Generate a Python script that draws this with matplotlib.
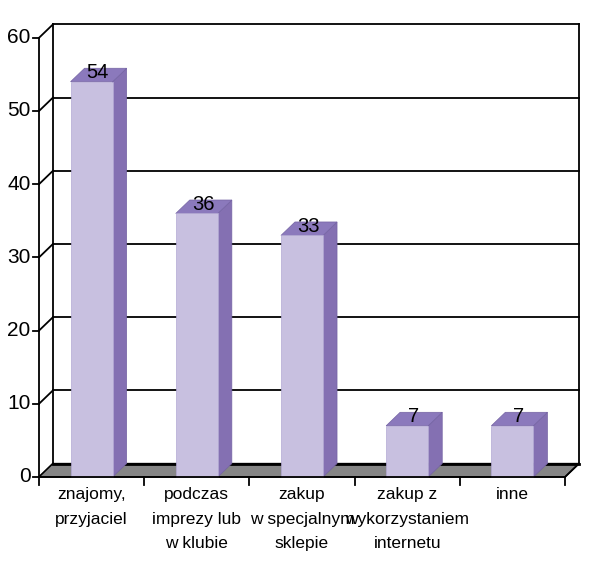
import matplotlib.pyplot as plt
from matplotlib.patches import Polygon

# data
categories = ["znajomy,\nprzyjaciel", "podczas\nimprezy lub\nw klubie",
              "zakup\nw specjalnym\nsklepie", "zakup z\nwykorzystaniem\ninternetu", "inne"]
values = [54, 36, 33, 7, 7]
y_ticks = [0, 10, 20, 30, 40, 50, 60]

plt.rcParams['font.family'] = ['Liberation Sans', 'DejaVu Sans']

front_col = "#c8c0e0"
side_col = "#8470b2"
top_col = "#8b79bc"
floor_col = "#858585"

n = len(categories)
dx, dy = 0.133, 1.84   # depth offset (category units, value units)
bw = 0.40              # bar width

fig = plt.figure(figsize=(6, 5.68), dpi=100)
ax = fig.add_axes([0, 0, 1, 1])
ax.set_xlim(-39 / 105.2, (600 - 39) / 105.2)
ax.set_ylim((477 - 568) / 7.32, 477 / 7.32)
ax.axis("off")

lw = 1.3
# back wall with gridlines
for t in y_ticks:
    ax.plot([dx, n + dx], [t + dy, t + dy], color="black", lw=lw, zorder=1)
    # side wall diagonals
    ax.plot([0, dx], [t, t + dy], color="black", lw=lw, zorder=1)
ax.plot([dx, dx], [dy, y_ticks[-1] + dy], color="black", lw=lw, zorder=1)
ax.plot([n + dx, n + dx], [dy, y_ticks[-1] + dy], color="black", lw=lw, zorder=1)

# floor
ax.add_patch(Polygon([(0, 0), (n, 0), (n + dx, dy), (dx, dy)], closed=True,
                     facecolor=floor_col, edgecolor="black", lw=1.0, zorder=2))
ax.plot([dx, n + dx], [dy, dy], color="black", lw=2.0, zorder=2)

# bars
for i, v in enumerate(values):
    c = i + 0.5
    x0, x1 = c - bw / 2, c + bw / 2
    ax.add_patch(Polygon([(x1, 0), (x1 + dx, dy), (x1 + dx, v + dy), (x1, v)], closed=True,
                         facecolor=side_col, edgecolor="#7463a3", lw=0.5, zorder=3))
    ax.add_patch(Polygon([(x0, v), (x1, v), (x1 + dx, v + dy), (x0 + dx, v + dy)], closed=True,
                         facecolor=top_col, edgecolor="#7463a3", lw=0.5, zorder=3))
    ax.add_patch(Polygon([(x0, 0), (x1, 0), (x1, v), (x0, v)], closed=True,
                         facecolor=front_col, edgecolor="#b3a9d4", lw=0.5, zorder=4))
    ax.text(c + 0.06, v + 1.2, str(v), ha="center", va="center", fontsize=14.5, zorder=5)

# front axes
ax.plot([0, 0], [-1.1, y_ticks[-1]], color="black", lw=lw, zorder=5)
ax.plot([0, n], [0, 0], color="black", lw=lw, zorder=5)
ax.plot([n, n + dx], [0, dy], color="black", lw=lw, zorder=5)
for t in y_ticks:
    ax.plot([-0.06, 0], [t, t], color="black", lw=lw, zorder=5)
    ax.text(-0.08, t, str(t), ha="right", va="center", fontsize=15)
for i in range(1, n + 1):
    ax.plot([i, i], [0, -1.1], color="black", lw=lw, zorder=5)

for i, lab in enumerate(categories):
    ax.text(i + 0.5, -1.4, lab, ha="center", va="top", fontsize=12.5, linespacing=1.8)

fig.savefig("out.png", dpi=100)
